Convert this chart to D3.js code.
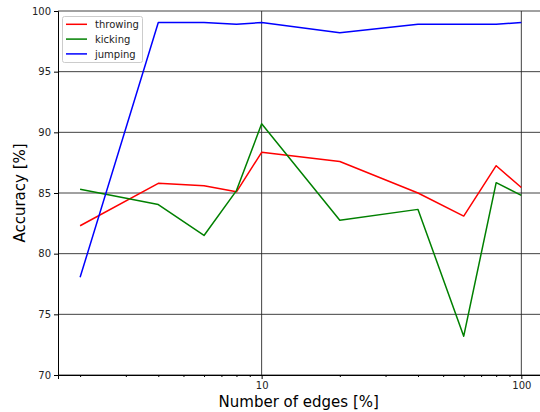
<!DOCTYPE html>
<html>
<head>
<meta charset="utf-8">
<script src="https://cdn.jsdelivr.net/npm/d3@7"></script>
<style>
html,body{margin:0;padding:0;background:#fff;}
svg{display:block;font-family:"DejaVu Sans",sans-serif;}
</style>
</head>
<body>
<svg id="chart" width="540" height="412"></svg>
<script>
const edges = [2, 4, 6, 8, 10, 20, 40, 60, 80, 100];
const throwing = [82.3, 85.8, 85.6, 85.1, 88.35, 87.6, 85.0, 83.1, 87.25, 85.45];
const kicking  = [85.3, 84.05, 81.5, 85.2, 90.7, 82.75, 83.65, 73.2, 85.85, 84.8];
const jumping  = [78.05, 99.05, 99.05, 98.9, 99.05, 98.2, 98.9, 98.9, 98.9, 99.05];
const yTicks = [70, 75, 80, 85, 90, 95, 100];
const xMajor = [10, 100];
const xMinor = [2, 3, 4, 5, 6, 7, 8, 9, 20, 30, 40, 50, 60, 70, 80, 90];
const seriesNames = ["throwing", "kicking", "jumping"];
const seriesColors = ["#ff0000", "#008000", "#0000ff"];
const seriesData = [throwing, kicking, jumping];

(function () {
const svg = d3.select("#chart");
const pL = 58, pR = 543.4, pT = 11, pB = 375;

const x = d3.scaleLog().domain([1.644, 121.6]).range([pL, pR]);
const y = d3.scaleLinear().domain([70, 100]).range([pB, pT]);

// grid
const g = svg.append("g");
g.selectAll(".hg").data(yTicks).enter().append("line")
  .attr("x1", pL).attr("x2", pR)
  .attr("y1", d => y(d)).attr("y2", d => y(d))
  .attr("stroke", "#222").attr("stroke-width", 1).attr("opacity", 0.85);
g.selectAll(".vg").data(xMajor).enter().append("line")
  .attr("x1", d => x(d)).attr("x2", d => x(d))
  .attr("y1", pT).attr("y2", pB)
  .attr("stroke", "#222").attr("stroke-width", 1).attr("opacity", 0.85);

// axes
const yAxis = d3.axisLeft(y).tickValues(yTicks).tickSize(4).tickPadding(3).tickFormat(d3.format("d"));
svg.append("g").attr("transform", `translate(${pL},0)`).call(yAxis)
  .call(s => s.select(".domain").attr("stroke", "#000").attr("stroke-width", 1))
  .call(s => s.selectAll("text").attr("font-size", 10).attr("fill", "#222").attr("font-family", "DejaVu Sans"));

const xAxis = d3.axisBottom(x).tickValues(xMajor).tickSize(4).tickPadding(3).tickFormat(d3.format("d"));
svg.append("g").attr("transform", `translate(0,${pB})`).call(xAxis)
  .call(s => s.select(".domain").attr("stroke", "#000").attr("stroke-width", 1))
  .call(s => s.selectAll("text").attr("font-size", 10).attr("fill", "#222").attr("font-family", "DejaVu Sans"));
const xAxisMinor = d3.axisBottom(x).tickValues(xMinor).tickSize(2).tickFormat("");
svg.append("g").attr("transform", `translate(0,${pB})`).call(xAxisMinor)
  .call(s => s.select(".domain").remove());

// lines
const line = d3.line().x((d, i) => x(edges[i])).y(d => y(d));
seriesData.forEach((data, k) => {
  svg.append("path").datum(data)
    .attr("fill", "none").attr("stroke", seriesColors[k]).attr("stroke-width", 1.5)
    .attr("stroke-linejoin", "round")
    .attr("d", line);
});

// labels
svg.append("text").attr("x", (pL + pR) / 2 - 2).attr("y", 407)
  .attr("text-anchor", "middle").attr("font-size", 15).attr("fill", "#000")
  .text("Number of edges [%]");
svg.append("text").attr("transform", `translate(25,${(pT + pB) / 2}) rotate(-90)`)
  .attr("text-anchor", "middle").attr("font-size", 15).attr("fill", "#000")
  .text("Accuracy [%]");

// legend
const lg = svg.append("g");
lg.append("rect").attr("x", 62.5).attr("y", 16.5).attr("width", 80).attr("height", 46)
  .attr("rx", 2).attr("fill", "#fff").attr("fill-opacity", 0.85).attr("stroke", "#ccc").attr("stroke-width", 1);
seriesNames.forEach((n, k) => {
  const yy = 24.3 + k * 14.8;
  lg.append("line").attr("x1", 66).attr("x2", 87).attr("y1", yy).attr("y2", yy)
    .attr("stroke", seriesColors[k]).attr("stroke-width", 1.5);
  lg.append("text").attr("x", 95).attr("y", yy + 3.6).attr("font-size", 10).attr("fill", "#222").text(n);
});
})();
</script>
</body>
</html>
